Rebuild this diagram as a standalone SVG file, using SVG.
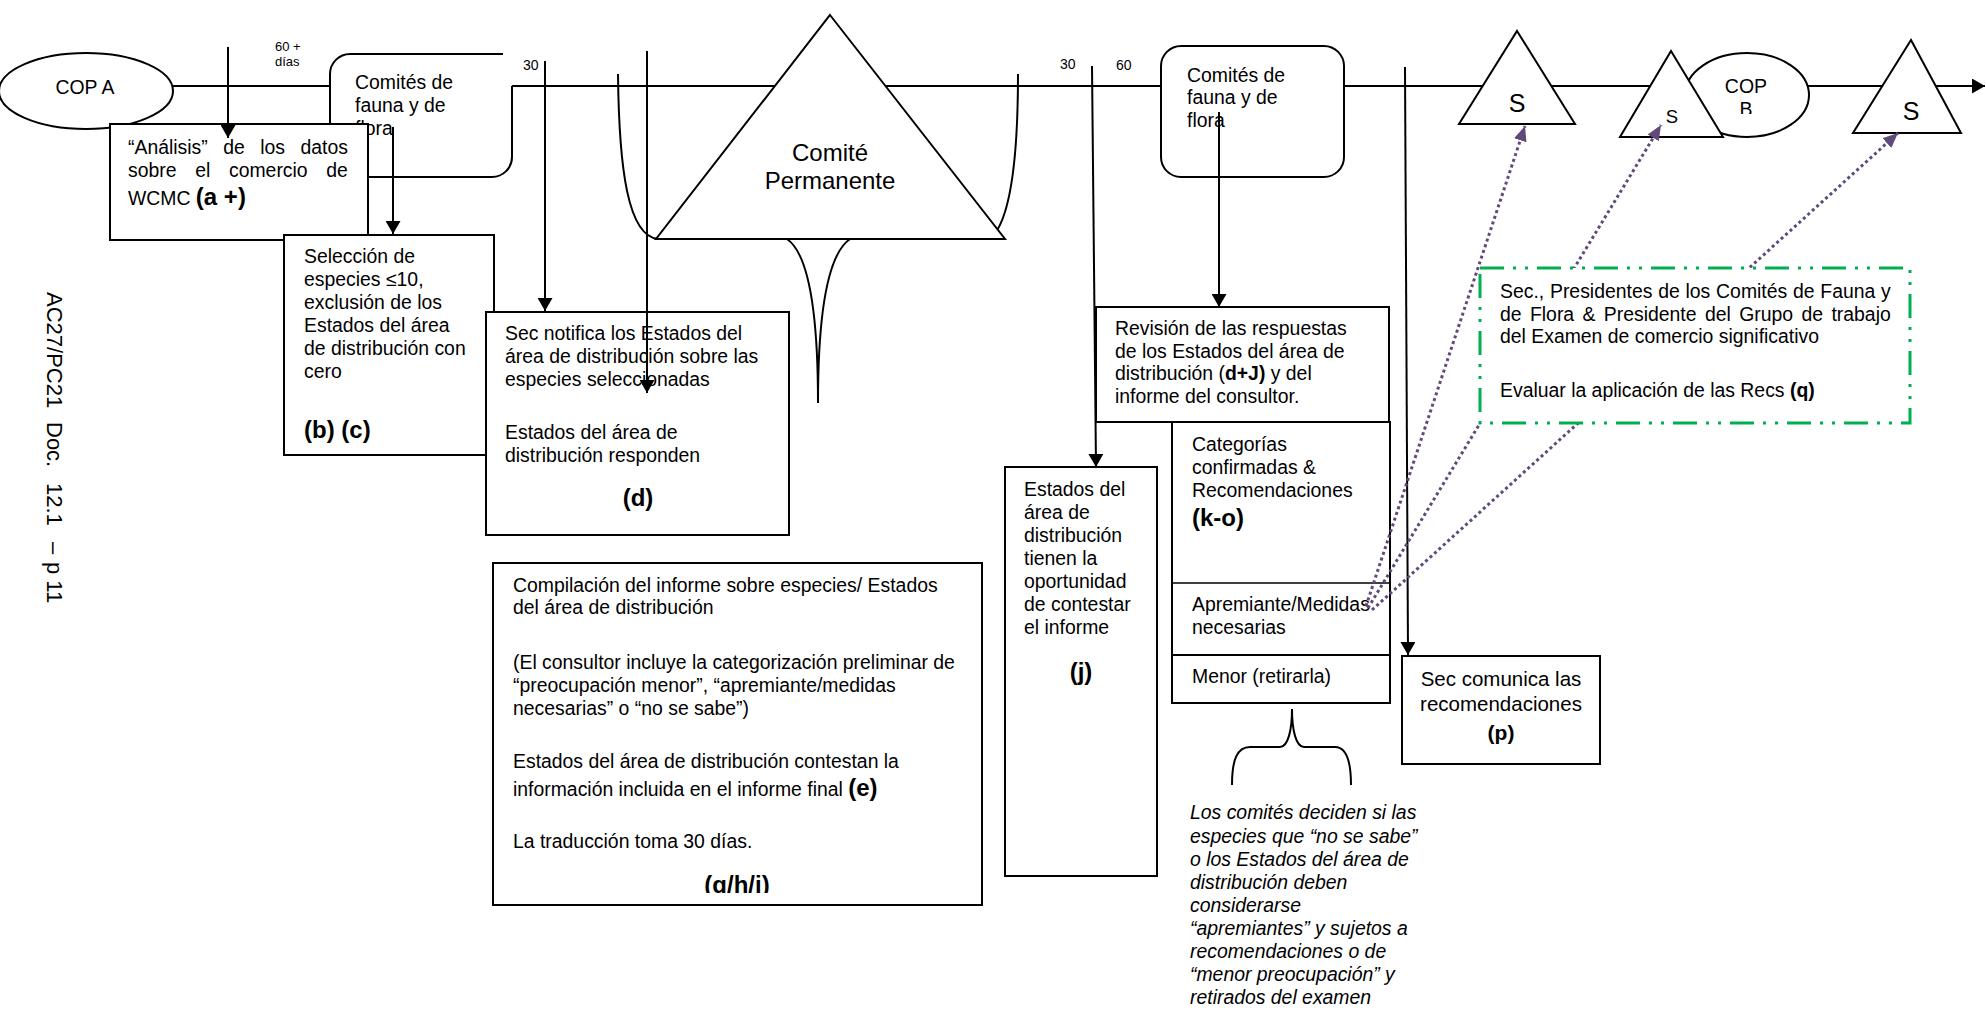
<svg xmlns="http://www.w3.org/2000/svg" width="1986" height="1013" viewBox="0 0 1986 1013">
<defs>
<style>
.t{font-family:"Liberation Sans",Arial,sans-serif;font-size:19.4px;fill:#000}
.b{font-weight:bold;font-size:24px}
.s{font-size:14px}
.c{text-anchor:middle}
.i{font-style:italic}
.ln{fill:none;stroke:#000;stroke-width:2}
.box{fill:#fff;stroke:#000;stroke-width:2}
.dot{fill:none;stroke:#604a7b;stroke-width:3;stroke-dasharray:3 3}
.grn{fill:#fff;stroke:#00b050;stroke-width:3;stroke-dasharray:24 9 3 9 3 9}
</style>
<marker id="ah" markerUnits="userSpaceOnUse" viewBox="0 0 13 15" refX="13" refY="7.5" markerWidth="13" markerHeight="15" orient="auto"><path d="M0,0L13,7.5L0,15z" fill="#000"/></marker>
<marker id="ap" markerUnits="userSpaceOnUse" viewBox="0 0 15 13" refX="15" refY="6.5" markerWidth="15" markerHeight="13" orient="auto"><path d="M0,0L15,6.5L0,13z" fill="#604a7b"/></marker>
<clipPath id="cg"><rect x="493" y="563" width="489" height="330"/></clipPath>
<clipPath id="cb"><rect x="1685" y="52" width="125" height="62"/></clipPath>
</defs>
<rect width="1986" height="1013" fill="#fff"/>

<g id="timeline">
<line class="ln" x1="170" y1="86" x2="331" y2="86"/>
<line class="ln" x1="511" y1="86" x2="1985" y2="86" marker-end="url(#ah)"/>
</g>

<g id="doc-ref">
<text class="t" style="font-size:22px" transform="translate(47,292) rotate(90)"><tspan x="0">AC27/PC21</tspan><tspan x="130">Doc.</tspan><tspan x="191">12.1</tspan><tspan x="250">–</tspan><tspan x="270">p 11</tspan></text>
</g>

<g id="labels">
<text class="t" style="font-size:13px" x="275" y="51">60 +</text>
<text class="t" style="font-size:13px" x="275" y="66">días</text>
<text class="t s" x="523" y="70">30</text>
<text class="t s" x="1060" y="69">30</text>
<text class="t s" x="1116" y="70">60</text>
</g>

<g id="cop-a">
<ellipse class="box" cx="86" cy="91" rx="87" ry="38"/>
<text class="t c" x="85" y="94">COP A</text>
</g>

<g id="comites-1">
<path d="M350,54H503L512,86V157A20,20 0 0 1 492,177H350A20,20 0 0 1 330,157V74A20,20 0 0 1 350,54Z" fill="#fff"/>
<path class="ln" d="M503,54H350A20,20 0 0 0 330,74V157A20,20 0 0 0 350,177H492A20,20 0 0 0 512,157V86"/>
<text class="t" x="355" y="89">Comités de</text>
<text class="t" x="355" y="112">fauna y de</text>
<text class="t" x="355" y="135">flora</text>
</g>

<g id="analisis">
<rect class="box" x="110" y="124" width="258" height="116"/>
<text class="t" x="128" y="154" style="word-spacing:10.1px">“Análisis” de los datos</text>
<text class="t" x="128" y="177" style="word-spacing:13.3px">sobre el comercio de</text>
<text class="t" x="128" y="205">WCMC <tspan class="b">(a +)</tspan></text>
</g>

<g id="seleccion">
<rect class="box" x="284" y="235" width="210" height="220"/>
<text class="t" x="304" y="263">Selección de</text>
<text class="t" x="304" y="286">especies ≤10,</text>
<text class="t" x="304" y="309">exclusión de los</text>
<text class="t" x="304" y="332">Estados del área</text>
<text class="t" x="304" y="355">de distribución con</text>
<text class="t" x="304" y="378">cero</text>
<text class="t b" x="304" y="438">(b) (c)</text>
</g>

<g id="sec-notifica">
<rect class="box" x="486" y="312" width="303" height="223"/>
<text class="t" x="505" y="340">Sec notifica los Estados del</text>
<text class="t" x="505" y="363">área de distribución sobre las</text>
<text class="t" x="505" y="386">especies seleccionadas</text>
<text class="t" x="505" y="439">Estados del área de</text>
<text class="t" x="505" y="462">distribución responden</text>
<text class="t b c" x="638" y="506">(d)</text>
</g>

<g id="compilacion">
<rect class="box" x="493" y="563" width="489" height="342"/>
<text class="t" x="513" y="592">Compilación del informe sobre especies/ Estados</text>
<text class="t" x="513" y="614">del área de distribución</text>
<text class="t" x="513" y="669">(El consultor incluye la categorización preliminar de</text>
<text class="t" x="513" y="692">“preocupación menor”, “apremiante/medidas</text>
<text class="t" x="513" y="715">necesarias” o “no se sabe”)</text>
<text class="t" x="513" y="768">Estados del área de distribución contestan la</text>
<text class="t" x="513" y="796">información incluida en el informe final <tspan class="b">(e)</tspan></text>
<text class="t" x="513" y="848">La traducción toma 30 días.</text>
<text class="t b c" x="737" y="893" clip-path="url(#cg)">(g/h/i)</text>
</g>

<g id="comite-permanente">
<path class="ln" d="M618,74C619,170 628,236 658,239L787,239C806,252 818,300 818,403C818,300 831,252 850,239L990,239C1010,222 1018,160 1018,74"/>
<polygon class="box" points="830,15 1005,239 656,239"/>
<text class="t c" style="font-size:24px" x="830" y="161">Comité</text>
<text class="t c" style="font-size:24px" x="830" y="189">Permanente</text>
</g>

<g id="estados-j">
<rect class="box" x="1005" y="467" width="152" height="409"/>
<text class="t" x="1024" y="496">Estados del</text>
<text class="t" x="1024" y="519">área de</text>
<text class="t" x="1024" y="542">distribución</text>
<text class="t" x="1024" y="565">tienen la</text>
<text class="t" x="1024" y="588">oportunidad</text>
<text class="t" x="1024" y="611">de contestar</text>
<text class="t" x="1024" y="634">el informe</text>
<text class="t b c" x="1081" y="680">(j)</text>
</g>

<g id="comites-2">
<rect class="box" x="1161" y="46" width="183" height="131" rx="20"/>
<text class="t" x="1187" y="82">Comités de</text>
<text class="t" x="1187" y="104">fauna y de</text>
<text class="t" x="1187" y="127">flora</text>
</g>

<g id="revision">
<rect class="box" x="1096" y="307" width="293" height="115"/>
<text class="t" x="1115" y="335">Revisión de las respuestas</text>
<text class="t" x="1115" y="358">de los Estados del área de</text>
<text class="t" x="1115" y="380">distribución (<tspan font-weight="bold">d+J)</tspan> y del</text>
<text class="t" x="1115" y="403">informe del consultor.</text>
</g>

<g id="categorias">
<rect class="box" x="1172" y="422" width="218" height="233"/>
<line x1="1172" y1="583" x2="1390" y2="583" stroke="#000" stroke-width="1.5"/>
<text class="t" x="1192" y="451">Categorías</text>
<text class="t" x="1192" y="474">confirmadas &amp;</text>
<text class="t" x="1192" y="497">Recomendaciones</text>
<text class="t b" x="1192" y="526">(k-o)</text>
<text class="t" x="1192" y="611">Apremiante/Medidas</text>
<text class="t" x="1192" y="634">necesarias</text>
</g>

<g id="menor">
<rect class="box" x="1172" y="655" width="218" height="48"/>
<text class="t" x="1192" y="683">Menor (retirarla)</text>
</g>

<g id="decision-note">
<path class="ln" d="M1232,785C1232,760 1237,747 1250,747L1280,747C1288,747 1292,730 1292,709C1292,730 1296,747 1304,747L1335,747C1346,747 1351,760 1351,785"/>
<text class="t i" x="1190" y="819">Los comités deciden si las</text>
<text class="t i" x="1190" y="843">especies que “no se sabe”</text>
<text class="t i" x="1190" y="866">o los Estados del área de</text>
<text class="t i" x="1190" y="889">distribución deben</text>
<text class="t i" x="1190" y="912">considerarse</text>
<text class="t i" x="1190" y="935">“apremiantes” y sujetos a</text>
<text class="t i" x="1190" y="958">recomendaciones o de</text>
<text class="t i" x="1190" y="981">“menor preocupación” y</text>
<text class="t i" x="1190" y="1004">retirados del examen</text>
</g>

<g id="sec-comunica">
<rect class="box" x="1402" y="656" width="198" height="108"/>
<text class="t c" style="font-size:20.5px" x="1501" y="686">Sec comunica las</text>
<text class="t c" style="font-size:20.5px" x="1501" y="711">recomendaciones</text>
<text class="t b c" style="font-size:21px" x="1501" y="740">(p)</text>
</g>

<g id="s-1">
<polygon class="box" points="1517,31 1575,124 1459,124"/>
<text class="t c" style="font-size:25px" x="1517" y="112">S</text>
</g>

<g id="cop-b">
<ellipse class="box" cx="1747" cy="95" rx="62" ry="42"/>
<text class="t c" style="font-size:19.5px" x="1746" y="93">COP</text>
<text class="t c" style="font-size:19.5px" x="1746" y="116" clip-path="url(#cb)">B</text>
</g>

<g id="s-2">
<polygon class="box" points="1671,51 1723,137 1620,137"/>
<text class="t c" style="font-size:18.5px" x="1672" y="123">S</text>
</g>

<g id="s-3">
<polygon class="box" points="1911,40 1961,133 1853,133"/>
<text class="t c" style="font-size:25px" x="1911" y="120">S</text>
</g>

<g id="connectors">
<line class="ln" x1="228" y1="47" x2="228" y2="138" marker-end="url(#ah)"/>
<line class="ln" x1="393" y1="127" x2="393" y2="234" marker-end="url(#ah)"/>
<line class="ln" x1="545" y1="61" x2="545" y2="311" marker-end="url(#ah)"/>
<line class="ln" x1="647" y1="51" x2="647" y2="393" marker-end="url(#ah)"/>
<line class="ln" x1="1092" y1="66" x2="1096" y2="467" marker-end="url(#ah)" stroke-width="1.6"/>
<line class="ln" x1="1219" y1="112" x2="1219" y2="307" marker-end="url(#ah)"/>
<line class="ln" x1="1405" y1="67" x2="1408" y2="655" marker-end="url(#ah)" stroke-width="1.6"/>
<line class="dot" x1="1366" y1="606" x2="1525" y2="126" marker-end="url(#ap)"/>
<line class="dot" x1="1368" y1="608" x2="1661" y2="125" marker-end="url(#ap)"/>
<line class="dot" x1="1372" y1="610" x2="1898" y2="133" marker-end="url(#ap)"/>
</g>

<g id="evaluacion">
<rect class="grn" x="1480" y="268" width="430" height="155"/>
<text class="t" x="1500" y="298" style="word-spacing:0.4px">Sec., Presidentes de los Comités de Fauna y</text>
<text class="t" x="1500" y="321" style="word-spacing:3px">de Flora &amp; Presidente del Grupo de trabajo</text>
<text class="t" x="1500" y="343">del Examen de comercio significativo</text>
<text class="t" x="1500" y="397">Evaluar la aplicación de las Recs <tspan font-weight="bold">(q)</tspan></text>
</g>
</svg>
